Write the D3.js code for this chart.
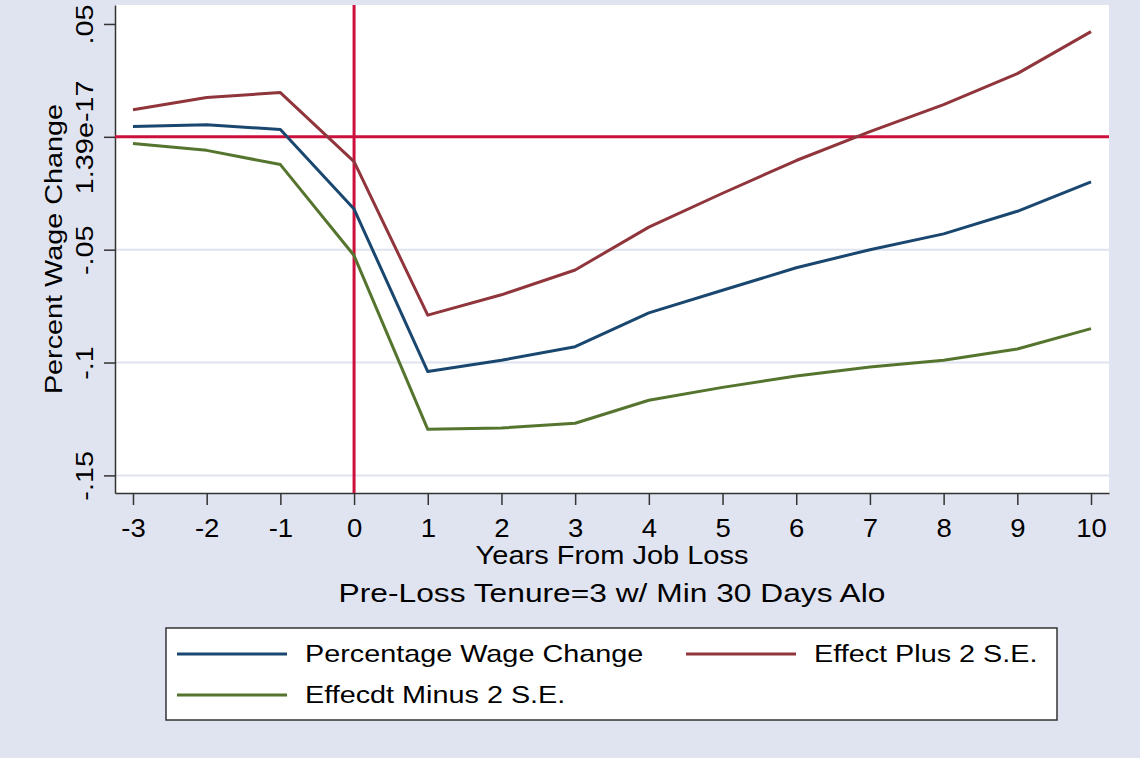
<!DOCTYPE html>
<html>
<head>
<meta charset="utf-8">
<script src="https://d3js.org/d3.v7.min.js"></script>
<style>
body { margin: 0; background: #e0e4f0; }
text { font-family: "Liberation Sans", Arial, sans-serif; fill: #000; }
</style>
</head>
<body>
<svg id="chart-area" width="1140" height="758"></svg>
<script>
// data
var years = [-3, -2, -1, 0, 1, 2, 3, 4, 5, 6, 7, 8, 9, 10];
var wageChange = [0.0046, 0.0054, 0.0032, -0.032, -0.104, -0.099, -0.093, -0.078, -0.068, -0.058, -0.050, -0.043, -0.033, -0.020];
var plusSE = [0.012, 0.0174, 0.0196, -0.011, -0.079, -0.070, -0.059, -0.040, -0.025, -0.0105, 0.0023, 0.0143, 0.028, 0.0466];
var minusSE = [-0.003, -0.006, -0.0123, -0.0526, -0.1296, -0.129, -0.1269, -0.1167, -0.111, -0.106, -0.102, -0.099, -0.094, -0.085];
var yTicks = [0.05, 1.39e-17, -0.05, -0.1, -0.15];
var yTickLabels = [".05", "1.39e-17", "-.05", "-.1", "-.15"];
var seriesNames = ["Percentage Wage Change", "Effect Plus 2 S.E.", "Effecdt Minus 2 S.E."];

var svg = d3.select("svg#chart-area");
var margin = {top: 5, right: 31, bottom: 265, left: 115};
var plotW = 1140 - margin.left - margin.right;
var plotH = 758 - margin.top - margin.bottom;

var x = d3.scaleLinear().domain([-3.244, 10.244]).range([margin.left, margin.left + plotW]);
var y = d3.scaleLinear().domain([-0.1578, 0.0584]).range([margin.top + plotH, margin.top]);

// the original text is drawn a bit wider than arial, so stretch it
function wideText(sel, px, py, rot, sx) {
    sel.attr("x", 0).attr("y", 0).attr("dy", null)
        .attr("transform", "translate(" + px + "," + py + ") rotate(" + rot + ") scale(" + sx + ",1)");
}

svg.append("rect")
    .attr("width", 1140).attr("height", 758)
    .style("fill", "#e0e4f0");

svg.append("rect")
    .attr("x", margin.left).attr("y", margin.top)
    .attr("width", plotW).attr("height", plotH)
    .style("fill", "#fff");

// gridlines
svg.selectAll(".grid")
    .data([-0.15, -0.1, -0.05])
    .enter().append("line")
    .attr("class", "grid")
    .attr("x1", margin.left).attr("x2", margin.left + plotW)
    .attr("y1", function(d) { return y(d); })
    .attr("y2", function(d) { return y(d); })
    .style("stroke", "#dfe3ee").style("stroke-width", 2);

// y axis
var yAxis = d3.axisLeft(y)
    .tickValues(yTicks)
    .tickSize(11)
    .tickSizeOuter(0)
    .tickFormat(function(d, i) { return yTickLabels[i]; });

var gy = svg.append("g")
    .attr("transform", "translate(" + margin.left + ",0)")
    .call(yAxis);
gy.select(".domain").style("stroke", "#333").style("stroke-width", 1.5);
gy.selectAll(".tick line").style("stroke", "#333").style("stroke-width", 1.5);
gy.selectAll(".tick text")
    .style("font-size", "24px")
    .attr("text-anchor", "middle")
    .each(function() { wideText(d3.select(this), -22, 0, -90, 1.2); });

// x axis
var xAxis = d3.axisBottom(x)
    .tickValues(years)
    .tickSize(12)
    .tickSizeOuter(0)
    .tickFormat(function(d) { return "" + d; });

var gx = svg.append("g")
    .attr("transform", "translate(0," + (margin.top + plotH) + ")")
    .call(xAxis);
gx.select(".domain").style("stroke", "#333").style("stroke-width", 1.5);
gx.selectAll(".tick line").style("stroke", "#333").style("stroke-width", 1.5);
gx.selectAll(".tick text").style("font-size", "25px")
    .each(function() { wideText(d3.select(this), 0, 44, 0, 1.1); });

// reference lines
svg.append("line")
    .attr("x1", margin.left).attr("x2", margin.left + plotW)
    .attr("y1", y(0)).attr("y2", y(0))
    .style("stroke", "#cc0f3c").style("stroke-width", 3);
svg.append("line")
    .attr("x1", x(0)).attr("x2", x(0))
    .attr("y1", margin.top).attr("y2", margin.top + plotH)
    .style("stroke", "#cc0f3c").style("stroke-width", 3);

var colors = ["#1a476f", "#90353b", "#55752f"];
var allSeries = [wageChange, plusSE, minusSE];

var line = d3.line()
    .x(function(d, i) { return x(years[i]); })
    .y(function(d) { return y(d); });

svg.selectAll(".series")
    .data(allSeries)
    .enter().append("path")
    .attr("class", "series")
    .attr("d", line)
    .style("fill", "none")
    .style("stroke", function(d, i) { return colors[i]; })
    .style("stroke-width", 3)
    .style("stroke-linejoin", "round");

// axis titles
svg.append("text")
    .attr("text-anchor", "middle")
    .style("font-size", "24px")
    .text("Percent Wage Change")
    .call(wideText, 62, margin.top + plotH / 2, -90, 1.2);

svg.append("text")
    .attr("text-anchor", "middle")
    .style("font-size", "25px")
    .text("Years From Job Loss")
    .call(wideText, margin.left + plotW / 2, 564, 0, 1.16);

svg.append("text")
    .attr("text-anchor", "middle")
    .style("font-size", "26px")
    .text("Pre-Loss Tenure=3 w/ Min 30 Days Alo")
    .call(wideText, margin.left + plotW / 2, 602, 0, 1.22);

// legend
var legend = svg.append("g");
legend.append("rect")
    .attr("x", 166).attr("y", 628)
    .attr("width", 891).attr("height", 92)
    .style("fill", "#fff").style("stroke", "#333").style("stroke-width", 1.5);

var legendPos = [[177, 654], [686, 654], [177, 695]];
seriesNames.forEach(function(name, i) {
    var p = legendPos[i];
    legend.append("line")
        .attr("x1", p[0]).attr("x2", p[0] + 110)
        .attr("y1", p[1]).attr("y2", p[1])
        .style("stroke", colors[i]).style("stroke-width", 3);
    legend.append("text")
        .style("font-size", "24px")
        .text(name)
        .call(wideText, p[0] + 128, p[1] + 8, 0, 1.2);
});
</script>
</body>
</html>
